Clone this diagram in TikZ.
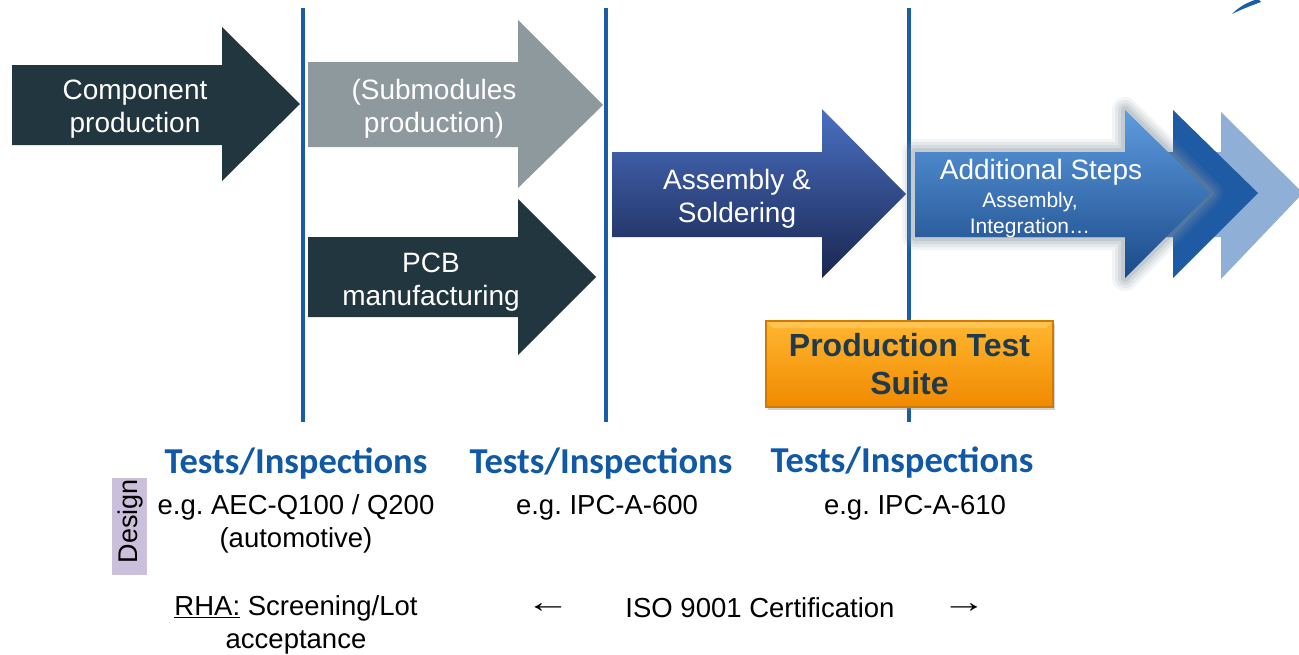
\documentclass[tikz,border=0pt]{standalone}
\usepackage{fontspec}
\usepackage{graphicx}
\setmainfont{Liberation Sans}
\newfontfamily\calibri{Carlito}
\usetikzlibrary{shadows}
\definecolor{vline}{HTML}{1A5DA6}
\definecolor{darkslate}{HTML}{22363F}
\definecolor{greyarrow}{HTML}{8E999E}
\definecolor{testblue}{HTML}{1059A6}
\definecolor{chevdark}{HTML}{1F5AA5}
\definecolor{chevlight}{HTML}{8FAFD6}
\definecolor{designbg}{HTML}{CBC0DC}
\definecolor{boxtext}{HTML}{1F3A4D}
\definecolor{asmtop}{HTML}{4A70C2}
\definecolor{asmbot}{HTML}{192650}
\definecolor{addtop}{HTML}{5E9CE0}
\definecolor{addbot}{HTML}{1A4A88}
\definecolor{boxdraw}{HTML}{D07A00}
\definecolor{boxtop}{HTML}{FFB630}
\definecolor{boxbot}{HTML}{F08A00}
\definecolor{boxhi}{HTML}{FFCE6A}
\definecolor{glowc}{HTML}{8797A2}
\begin{document}
\frenchspacing
\begin{tikzpicture}[x=1pt,y=-1pt,
  vl/.style={draw=vline,line width=4pt},
  wtext/.style={text=white,align=center,font=\fontsize{28}{33}\selectfont},
  testhead/.style={text=testblue,font=\calibri\bfseries\fontsize{36.5}{40}\selectfont},
  body/.style={text=black,align=center,font=\fontsize{27.5}{33}\selectfont},
  glow/.style={draw=glowc,line join=round}
]
\useasboundingbox (0,0) rectangle (1299,654);
\fill[white] (0,0) rectangle (1299,654);

% vertical separators
\draw[vl] (303,8) -- (303,422);
\draw[vl] (606,8) -- (606,422);
\draw[vl] (909,8) -- (909,422);

% top-right fragment
\fill[vline] (1232,14) .. controls (1240,6) and (1248,2) .. (1258,-1) -- (1261,2) .. controls (1250,6) and (1240,10) .. (1232,14) -- cycle;

% Arrow 1: component production
\fill[darkslate] (12,65) -- (222,65) -- (222,27) -- (300,104) -- (222,181) -- (222,145) -- (12,145) -- cycle;
\node[wtext] (comp) at (135,109) {Component\\production};

% Arrow 2: submodules
\fill[greyarrow] (308,62) -- (518,62) -- (518,20) -- (603,105) -- (518,188) -- (518,147) -- (308,147) -- cycle;
\node[wtext] (sub) at (434,109) {(Submodules\\production)};

% Arrow 3: PCB
\fill[darkslate] (308,237) -- (518,237) -- (518,199) -- (596,277) -- (518,355) -- (518,317) -- (308,317) -- cycle;
\node[wtext] (pcb) at (431,282) {PCB\\manufacturing};

% Arrow 4: Assembly
\shade[top color=asmtop,bottom color=asmbot] (612,152) -- (822,152) -- (822,109) -- (906,194) -- (822,278) -- (822,237) -- (612,237) -- cycle;
\node[wtext] (asm) at (737,199) {Assembly \&\\Soldering};

% chevrons behind arrow 5
\fill[chevlight] (1000,152) -- (1221,152) -- (1221,112) -- (1303,193) -- (1221,279) -- (1221,237) -- (1000,237) -- cycle;
\fill[chevdark] (960,152) -- (1173,152) -- (1173,110) -- (1258,193) -- (1173,278) -- (1173,237) -- (960,237) -- cycle;

% glow of arrow 5
\foreach \w/\o in {26/0.10,20/0.12,14/0.16,8/0.22}{
  \draw[glow,line width=\w pt,opacity=\o] (915,152) -- (1125,152) -- (1125,110) -- (1210,193) -- (1125,278) -- (1125,237) -- (915,237) -- cycle;
}
\shade[top color=addtop,bottom color=addbot] (915,152) -- (1125,152) -- (1125,110) -- (1210,193) -- (1125,278) -- (1125,237) -- (915,237) -- cycle;
\node[text=white,font=\fontsize{28}{30}\selectfont] (add) at (1041,172) {Additional Steps};
\node[text=white,align=center,font=\fontsize{21}{26}\selectfont] (addsub) at (1030,215) {Assembly,\\Integration\ldots};

% Production Test Suite box
\node[draw=boxdraw,line width=1.2pt,top color=boxtop,bottom color=boxbot,
      drop shadow={shadow xshift=2pt,shadow yshift=-3pt,opacity=0.35},
      minimum width=287pt,minimum height=86pt,inner sep=0pt] (pts) at (909.5,364) {};
\fill[boxhi,opacity=0.6] (767,322) -- (1052,322) -- (1046,328) -- (773,328) -- cycle;
\node[text=boxtext,align=center,font=\bfseries\fontsize{32}{38}\selectfont] (ptstext) at (pts.center) {Production Test\\Suite};

% Tests / inspections
\node[testhead] (t1) at (296,464) {Tests/Inspections};
\node[testhead] (t2) at (601,464) {Tests/Inspections};
\node[testhead] (t3) at (902,463) {Tests/Inspections};

\node[body] (e1) at (296,524) {e.g. AEC-Q100 / Q200\\(automotive)};
\node[body] (e2) at (607,508) {e.g. IPC-A-600};
\node[body] (e3) at (915,508) {e.g. IPC-A-610};

% Design label
\fill[designbg] (112,478) rectangle (147,575);
\node[rotate=90,text=black,font=\fontsize{27}{30}\selectfont] (design) at (131,521) {Design};

% bottom
\node[body] (rha) at (296,625) {\underline{RHA:} Screening/Lot\\acceptance};
\node[text=black,font=\fontsize{28}{30}\selectfont] (la) at (548,608) {\scalebox{1.6}[1.1]{←}};
\node[body] (iso) at (760,608) {ISO 9001 Certification};
\node[text=black,font=\fontsize{28}{30}\selectfont] (ra) at (964,608) {\scalebox{1.6}[1.1]{→}};
\end{tikzpicture}
\end{document}
